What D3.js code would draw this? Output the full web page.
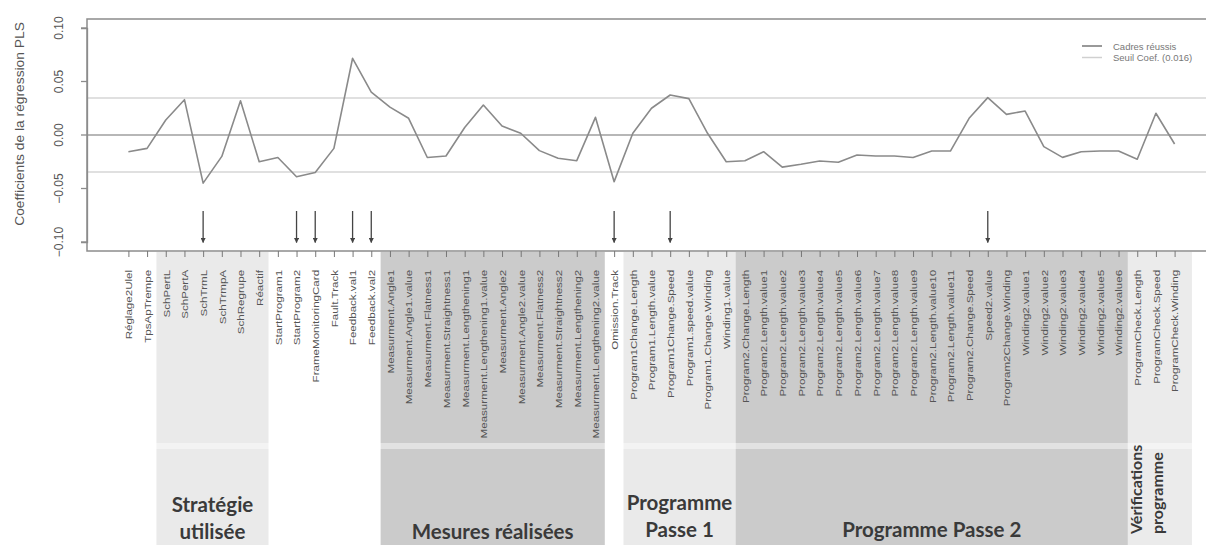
<!DOCTYPE html>
<html>
<head>
<meta charset="utf-8">
<script src="https://cdn.jsdelivr.net/npm/d3@7"></script>
<style>
  body { margin: 0; background: #fff; }
  svg { display: block; font-family: "Liberation Sans", Arial, sans-serif; }
  .grp { font-family: Lato, "Open Sans", sans-serif; font-weight: bold; fill: #3a3a3a; }
</style>
</head>
<body>
<div id="chart"></div>
<script>
// variable names on the x axis
const labels = [
  "Réglage2Ulel", "TpsApTrempe",
  "SchPertL", "SchPertA", "SchTrmL", "SchTrmpA", "SchRegrupe", "Réactif",
  "StartProgram1", "StartProgram2", "FrameMonitoringCard", "Fault.Track", "Feedback.val1", "Feedback.val2",
  "Measurment.Angle1", "Measurment.Angle1.value", "Measurment.Flatness1", "Measurment.Straightness1",
  "Measurment.Lengthening1", "Measurment.Lengthening1.value", "Measurment.Angle2", "Measurment.Angle2.value",
  "Measurment.Flatness2", "Measurment.Straightness2", "Measurment.Lengthening2", "Measurment.Lengthening2.value",
  "Omission.Track",
  "Program1Change.Length", "Program1.Length.value", "Program1Change.Speed", "Program1.speed.value",
  "Program1.Change.Winding", "Winding1.value",
  "Program2.Change.Length", "Program2.Length.value1", "Program2.Length.value2", "Program2.Length.value3",
  "Program2.Length.value4", "Program2.Length.value5", "Program2.Length.value6", "Program2.Length.value7",
  "Program2.Length.value8", "Program2.Length.value9", "Program2.Length.value10", "Program2.Length.value11",
  "Program2.Change.Speed", "Speed2.value", "Program2Change.Winding",
  "Winding2.value1", "Winding2.value2", "Winding2.value3", "Winding2.value4", "Winding2.value5", "Winding2.value6",
  "ProgramCheck.Length", "ProgramCheck.Speed", "ProgramCheck.Winding"
];

// PLS coefficients (Cadres réussis)
const coefs = [
  -0.0156, -0.0125,
  0.014, 0.033, -0.045, -0.020, 0.032, -0.025,
  -0.021, -0.039, -0.035, -0.0125, 0.0717, 0.040,
  0.026, 0.0156, -0.021, -0.0196, 0.007, 0.028, 0.0084, 0.0016, -0.0146, -0.0218, -0.024, 0.0165,
  -0.0436,
  0.0016, 0.025, 0.0374, 0.034, 0.0016, -0.025,
  -0.024, -0.0156, -0.030, -0.0274, -0.0243, -0.0255, -0.0187, -0.0196, -0.0196, -0.021, -0.015,
  -0.015, 0.0156, 0.0349, 0.0193, 0.0224, -0.0109, -0.0209, -0.0156, -0.015, -0.015,
  -0.0227, 0.0203, -0.0084
];

// variables flagged with an arrow
const arrowVars = ["SchTrmL", "StartProgram2", "FrameMonitoringCard", "Feedback.val1", "Feedback.val2",
  "Omission.Track", "Program1Change.Speed", "Speed2.value"];

const yTicks = [-0.10, -0.05, 0.00, 0.05, 0.10];
const threshold = 0.0346;
const legendLabels = ["Cadres réussis", "Seuil Coef. (0.016)"];

// variable groups (first / last variable of each)
const groupNames = [["Stratégie", "utilisée"], ["Mesures réalisées"], ["Programme", "Passe 1"], ["Programme Passe 2"], ["Vérifications", "programme"]];
const groupFirst = ["SchPertL", "Measurment.Angle1", "Program1Change.Length", "Program2.Change.Length", "ProgramCheck.Length"];
const groupLast = ["Réactif", "Measurment.Lengthening2.value", "Winding1.value", "Winding2.value6", "ProgramCheck.Winding"];

// styling for the groups
const groupFill = ["#eaeaea", "#cbcbcb", "#eaeaea", "#cbcbcb", "#ebebeb"];
const groupTextY = [[512, 539], [539], [510, 537], [537], null];

const width = 1206, height = 545;
const box = {left: 87, right: 1215, top: 19, bottom: 251};

let svg = d3.select("#chart").append("svg")
  .attr("width", width)
  .attr("height", height);

let x = d3.scalePoint()
  .domain(labels)
  .range([128.4, 1174.6]);

let y = d3.scaleLinear()
  .domain([-0.10, 0.10])
  .range([242, 28]);

const step = x.step();

// shaded bands behind the variable names
groupNames.forEach(function(name, i) {
  let x0 = x(groupFirst[i]) - step / 2,
      x1 = x(groupLast[i]) + step / 2;
  if (i == 4) x1 += 8;
  svg.append("rect")
    .attr("x", x0).attr("y", box.bottom + 1)
    .attr("width", x1 - x0).attr("height", height - box.bottom)
    .attr("fill", groupFill[i]);
});

// faint seam between the two stacked images
svg.append("rect")
  .attr("x", box.left).attr("y", 443)
  .attr("width", width - box.left).attr("height", 6)
  .attr("fill", "#fff").attr("opacity", 0.45);

// group titles
groupNames.forEach(function(name, i) {
  let cx = (x(groupFirst[i]) + x(groupLast[i])) / 2;
  if (i == 4) {
    name.forEach(function(line, j) {
      svg.append("text")
        .attr("class", "grp")
        .attr("font-size", 16)
        .attr("transform", "translate(" + (x(groupFirst[i]) + 5 + j * 21) + ",534) rotate(-90)")
        .text(line);
    });
    return;
  }
  name.forEach(function(line, j) {
    svg.append("text")
      .attr("class", "grp")
      .attr("font-size", 20.5)
      .attr("x", cx).attr("y", groupTextY[i][j])
      .attr("text-anchor", "middle")
      .text(line);
  });
});

// threshold lines
[threshold, -threshold].forEach(function(t) {
  svg.append("line")
    .attr("x1", box.left).attr("x2", width)
    .attr("y1", y(t)).attr("y2", y(t))
    .attr("stroke", "#d6d6d6").attr("stroke-width", 1.5);
});

// zero line
svg.append("line")
  .attr("x1", box.left).attr("x2", width)
  .attr("y1", y(0)).attr("y2", y(0))
  .attr("stroke", "#707070").attr("stroke-width", 1.2);

// coefficient line
const coefLine = d3.line()
  .x(function(d, i) { return x(labels[i]); })
  .y(function(d) { return y(d); });

svg.append("path")
  .datum(coefs)
  .attr("fill", "none")
  .attr("stroke", "#8a8a8a")
  .attr("stroke-width", 1.6)
  .attr("stroke-linejoin", "round")
  .attr("d", coefLine);

// arrows
svg.append("defs").append("marker")
  .attr("id", "head")
  .attr("viewBox", "0 0 10 10")
  .attr("refX", 9).attr("refY", 5)
  .attr("markerWidth", 4).attr("markerHeight", 4)
  .attr("orient", "auto")
  .append("path")
  .attr("d", "M0,0L10,5L0,10Z")
  .attr("fill", "#444");

arrowVars.forEach(function(v) {
  svg.append("line")
    .attr("x1", x(v)).attr("x2", x(v))
    .attr("y1", y(-0.071)).attr("y2", y(-0.1005))
    .attr("stroke", "#444").attr("stroke-width", 1.3)
    .attr("marker-end", "url(#head)");
});

// plot box
svg.append("rect")
  .attr("x", box.left).attr("y", box.top)
  .attr("width", box.right - box.left).attr("height", box.bottom - box.top)
  .attr("fill", "none").attr("stroke", "#8c8c8c").attr("stroke-width", 1.5);

// y axis
let yAxis = svg.append("g")
  .attr("transform", "translate(" + box.left + ",0)")
  .call(d3.axisLeft(y).tickValues(yTicks).tickSize(6).tickFormat(d3.format(".2f")));
yAxis.select(".domain").attr("stroke", "#8c8c8c").attr("stroke-width", 1.3);
yAxis.selectAll(".tick line").attr("stroke", "#8c8c8c").attr("stroke-width", 1.3);
yAxis.selectAll(".tick text")
  .attr("transform", function(d) { return "translate(-24," + y(d) + ") rotate(-90)"; })
  .attr("x", 0).attr("y", 0).attr("dy", 0)
  .attr("text-anchor", "middle")
  .attr("fill", "#555").attr("font-size", 12)
  .attr("font-family", "Liberation Sans, Arial, sans-serif");
yAxis.selectAll(".tick").attr("transform", null);
yAxis.selectAll(".tick line")
  .attr("y1", function(d) { return y(d); }).attr("y2", function(d) { return y(d); });

svg.append("text")
  .attr("transform", "translate(24,124) rotate(-90) scale(1.15,1)")
  .attr("text-anchor", "middle")
  .attr("fill", "#555").attr("font-size", 12)
  .text("Coefficients de la régression PLS");

// x axis with rotated variable names
let xAxis = svg.append("g")
  .attr("transform", "translate(0," + box.bottom + ")")
  .call(d3.axisBottom(x).tickSize(6));
xAxis.select(".domain").remove();
xAxis.selectAll(".tick line").attr("stroke", "#777").attr("stroke-width", 1);
xAxis.selectAll(".tick text")
  .attr("transform", "rotate(-90) scale(1.22,1)")
  .attr("x", -15.5).attr("y", 0).attr("dy", "0.35em")
  .attr("text-anchor", "end")
  .attr("fill", "#555").attr("font-size", 9.5)
  .attr("font-family", "Liberation Sans, Arial, sans-serif");

// legend
const legendStroke = ["#777", "#d0d0d0"];
legendLabels.forEach(function(l, i) {
  let ly = 46 + i * 11.5;
  svg.append("line")
    .attr("x1", 1082).attr("x2", 1102)
    .attr("y1", ly).attr("y2", ly)
    .attr("stroke", legendStroke[i]).attr("stroke-width", 1.5);
  svg.append("text")
    .attr("x", 1113).attr("y", ly + 3.5)
    .attr("fill", "#777").attr("font-size", 9.5)
    .text(l);
});
</script>
</body>
</html>
